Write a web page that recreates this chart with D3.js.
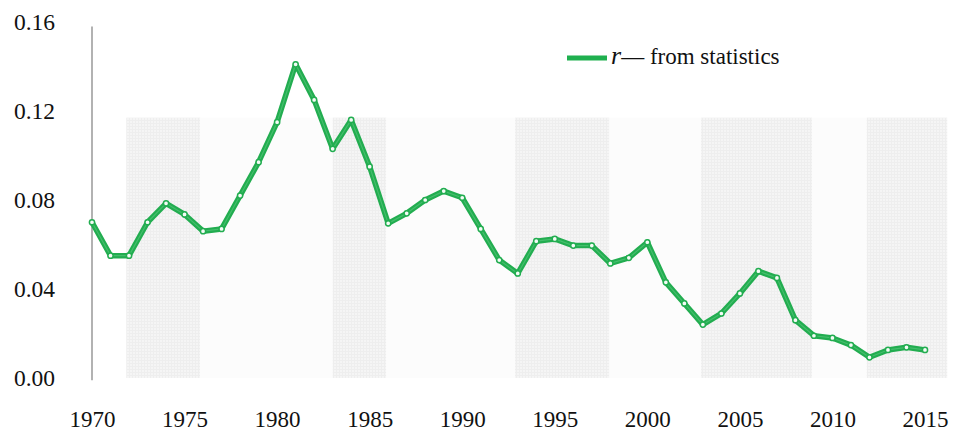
<!DOCTYPE html>
<html><head><meta charset="utf-8">
<script src="https://cdn.jsdelivr.net/npm/d3@7"></script>
<style>html,body{margin:0;padding:0;background:#fff;}svg{display:block;}
svg text{font-family:"Liberation Serif","Times New Roman",serif;}</style>
</head><body>
<svg id="chart" width="957" height="434"></svg>
<script>
const years = d3.range(1970, 2016);
const values = [0.070,0.055,0.055,0.070,0.0785,0.0735,0.066,0.067,0.082,0.097,0.115,0.141,0.125,0.103,0.116,0.095,0.0695,0.074,0.080,0.084,0.081,0.067,0.053,0.047,0.0615,0.0625,0.0595,0.0595,0.0515,0.054,0.061,0.043,0.0335,0.024,0.029,0.038,0.048,0.045,0.026,0.019,0.018,0.0148,0.0093,0.0126,0.0138,0.0126];
const yTicks = [0, 0.04, 0.08, 0.12, 0.16];
const xTicks = [1970,1975,1980,1985,1990,1995,2000,2005,2010,2015];
const bandEdges = [1971.85,1975.85,1983.0,1985.9,1992.85,1997.95,2002.9,2008.9,2011.85,2016.2];
const bandTop = 0.117;
const legendLabel = "from statistics";

const serif = '"Liberation Serif","Times New Roman",serif';
const svg = d3.select("#chart");
const x = d3.scaleLinear().domain([1970, 2015]).range([92, 925]);
const y = d3.scaleLinear().domain([0, 0.16]).range([378, 22]);

const defs = svg.append("defs");
const pat = defs.append("pattern").attr("id","grid").attr("width",3).attr("height",3).attr("patternUnits","userSpaceOnUse");
pat.append("rect").attr("width",3).attr("height",3).attr("fill","#f5f5f5");
pat.append("path").attr("d","M0 0.5H3M0.5 0V3").attr("stroke","#eeeeee").attr("stroke-width",1);

const bands = d3.range(bandEdges.length-1).map(i => ({x0: bandEdges[i], x1: bandEdges[i+1], dark: i % 2 === 0}));
svg.append("g").selectAll("rect").data(bands).join("rect")
  .attr("x", d => x(d.x0)).attr("width", d => x(d.x1) - x(d.x0))
  .attr("y", y(bandTop)).attr("height", y(0) - y(bandTop))
  .attr("fill", d => d.dark ? "url(#grid)" : "#fcfcfc");

const yAxis = d3.axisLeft(y).tickValues(yTicks).tickFormat(d3.format(".2f")).tickSize(0).tickPadding(37);
const gy = svg.append("g").attr("transform","translate(92,0)").call(yAxis);
gy.attr("font-family", serif).attr("font-size", 23.5);
gy.select(".domain").remove();
gy.selectAll("text").style("font-family", serif).style("font-size","23.5px").attr("fill","#111");
svg.append("line").attr("x1",92).attr("x2",92).attr("y1",y(0.158)).attr("y2",y(-0.001)).attr("stroke","#999").attr("stroke-width",1.5);

const xAxis = d3.axisBottom(x).tickValues(xTicks).tickFormat(d3.format("d")).tickSize(0).tickPadding(33);
const gx = svg.append("g").attr("transform","translate(0,"+y(0)+")").call(xAxis);
gx.attr("font-family", serif).attr("font-size", 23);
gx.select(".domain").remove();
gx.selectAll("text").style("font-family", serif).style("font-size","23px").attr("fill","#111");

const data = years.map((yr,i)=>({yr, v: values[i]}));
const line = d3.line().x(d=>x(d.yr)).y(d=>y(d.v));
svg.append("path").datum(data).attr("d", line).attr("fill","none")
  .attr("stroke","#22ad50").attr("stroke-width",5.5).attr("stroke-linejoin","round");
svg.append("path").datum(data).attr("d", line).attr("fill","none")
  .attr("stroke","#52c478").attr("stroke-width",1.2).attr("stroke-linejoin","round").attr("opacity",0.7);
svg.append("g").selectAll("circle").data(data).join("circle")
  .attr("cx", d=>x(d.yr)).attr("cy", d=>y(d.v)).attr("r",2.6)
  .attr("fill","#f4fbf6").attr("stroke","#22ad50").attr("stroke-width",1.5);

const lg = svg.append("g");
lg.append("line").attr("x1",567).attr("x2",607).attr("y1",58).attr("y2",58).attr("stroke","#1fb04f").attr("stroke-width",5);
const t = lg.append("text").attr("x",611).attr("y",64).style("font-family",serif).style("font-size","23px").attr("fill","#111");
t.append("tspan").style("font-style","italic").style("font-size","26px").text("r");
t.append("tspan").text("\u2014 " + legendLabel);
</script>
</body></html>
